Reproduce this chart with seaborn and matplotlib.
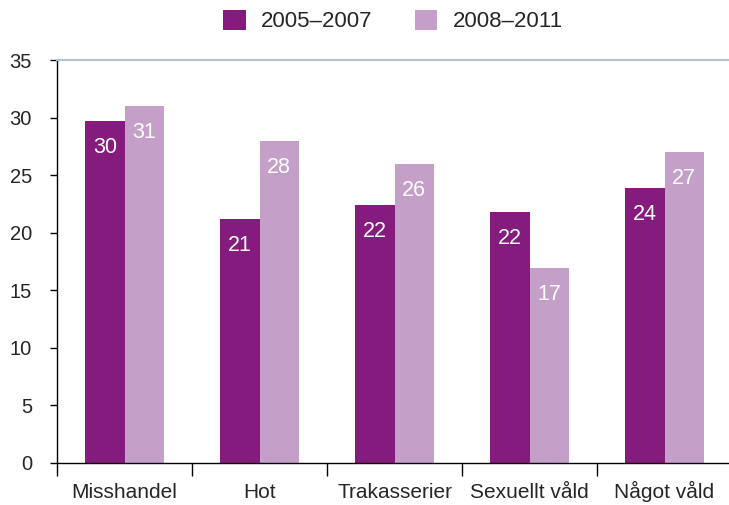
import matplotlib
matplotlib.use("Agg")
import matplotlib.pyplot as plt
import seaborn as sns
import pandas as pd
from matplotlib.ticker import FixedLocator
from matplotlib.patches import Patch

categories = ["Misshandel", "Hot", "Trakasserier", "Sexuellt våld", "Något våld"]
series_names = ["2005–2007", "2008–2011"]
values_2005_2007 = [29.7, 21.2, 22.4, 21.8, 23.9]
values_2008_2011 = [31.0, 28.0, 26.0, 16.9, 27.0]
yticks = [0, 5, 10, 15, 20, 25, 30, 35]

colors = ["#841B7D", "#C49FC8"]

df = pd.DataFrame({
    "category": categories * 2,
    "period": [series_names[0]] * 5 + [series_names[1]] * 5,
    "value": values_2005_2007 + values_2008_2011,
})

sns.set_style("white")
plt.rcParams["font.family"] = ["Liberation Sans", "DejaVu Sans"]

fig = plt.figure(figsize=(7.29, 5.05), dpi=100)
ax = fig.add_axes([57 / 729, 1 - 463 / 505, 675 / 729, (463 - 60) / 505])

sns.barplot(data=df, x="category", y="value", hue="period", order=categories,
            hue_order=series_names, palette=colors, width=0.58, gap=0,
            saturation=1, legend=False, ax=ax, edgecolor="none", linewidth=0)

for cont in ax.containers:
    for bar in cont:
        h = bar.get_height()
        ax.text(bar.get_x() + bar.get_width() / 2, h - 2.3, f"{round(h):d}",
                ha="center", va="center", color="white", fontsize=15.5)

ax.set_xlim(-0.5, 4.5)
ax.set_ylim(0, 35)
ax.set_yticks(yticks)
ax.set_xlabel("")
ax.set_ylabel("")
ax.tick_params(axis="y", which="major", length=5, width=1, color="black",
               direction="out", pad=13, labelsize=14.5, left=True)
ax.tick_params(axis="x", which="major", length=0, pad=25, labelsize=15)
for lbl in ax.get_xticklabels():
    lbl.set_verticalalignment("baseline")
ax.xaxis.set_minor_locator(FixedLocator([-0.5, 0.5, 1.5, 2.5, 3.5, 4.5]))
ax.tick_params(axis="x", which="minor", length=9, width=1, color="black",
               direction="out", bottom=True)

for s in ["left", "bottom"]:
    ax.spines[s].set_color("black")
    ax.spines[s].set_linewidth(1)
ax.spines["right"].set_visible(False)
ax.spines["top"].set_color("#B4C0CA")
ax.spines["top"].set_linewidth(1.5)

handles = [Patch(facecolor=c, edgecolor="none") for c in colors]
fig.legend(handles, series_names, loc="center", bbox_to_anchor=(393 / 729, 1 - 21 / 505),
           ncol=2, frameon=False, fontsize=16, handlelength=1.0, handleheight=1.0,
           handletextpad=0.7, columnspacing=1.9)

fig.savefig("out.png", dpi=100)
